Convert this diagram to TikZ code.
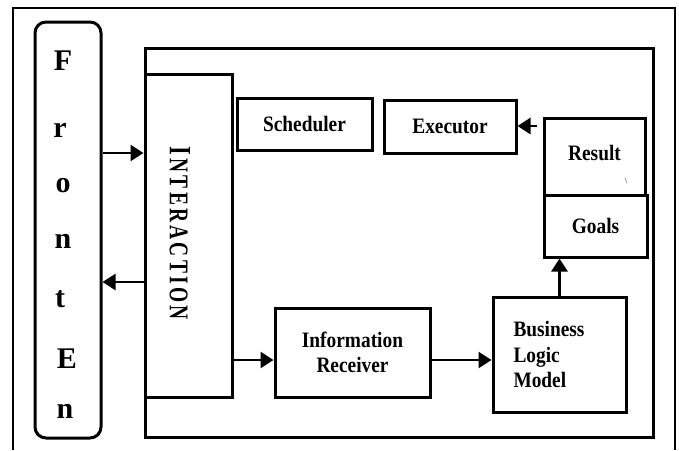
\documentclass[tikz,border=0pt]{standalone}
\usepackage{fontspec}
\setmainfont{Liberation Serif}
\newfontfamily\narrowfont[FakeStretch=0.88]{Liberation Serif}
\usetikzlibrary{arrows.meta}
\usepackage{graphicx}

\tikzset{
  blk/.style={draw=black,line width=3pt,inner sep=0pt,font=\narrowfont\fontsize{22}{25.5}\selectfont\bfseries},
  letter/.style={anchor=base,font=\fontsize{30}{30}\selectfont\bfseries},
  link/.style={line width=2.6pt,-{Triangle[length=13pt,width=16pt]}}
}

\begin{document}
\begin{tikzpicture}[x=1pt,y=-1pt]
\useasboundingbox (0,0) rectangle (679,450);

% page frame, open at the foot
\draw[line width=1.5pt] (13,450) -- (13,8) -- (675,8) -- (675,450);

% front end column
\node[draw=black,line width=3pt,rounded corners=11pt,minimum width=66pt,minimum height=416pt] (front) at (68,230) {};
\node[letter] (f1) at (63,70) {F};
\node[letter] (f2) at (60,137) {r};
\node[letter] (f3) at (63,192) {o};
\node[letter] (f4) at (63,248) {n};
\node[letter] (f5) at (60,307) {t};
\node[letter] (f6) at (67,368) {E};
\node[letter] (f7) at (65,418) {n};

% system frame
\node[blk,minimum width=508pt,minimum height=389pt] (system) at (399,242.5) {};

% interaction layer
\node[blk,minimum width=87pt,minimum height=323pt] (inter) at (188.5,235.5) {};
\node[rotate=-90,font=\bfseries] (intertext) at (180,233)
  {\scalebox{0.72}[1]{\fontsize{31}{31}\selectfont I\,\fontsize{27}{27}\selectfont N\,T\,E\,R\,A\,C\,T\,I\,O\,N}};

% inner blocks
\node[blk,minimum width=135pt,minimum height=52pt] (sched) at (304.5,124) {Scheduler};
\node[blk,minimum width=132pt,minimum height=53pt] (exec) at (450,126.5) {Executor};
\node[blk,minimum width=101pt,minimum height=77pt,text depth=8pt] (result) at (594.5,156.5) {Result};
\node[blk,minimum width=103pt,minimum height=62pt] (goals) at (595.5,226) {Goals};
\node[blk,minimum width=155pt,minimum height=89pt,align=center] (info) at (352.5,352.5) {Information\\Receiver};
\node[blk,minimum width=133pt,minimum height=115pt,text width=92pt,align=left] (biz) at (559.5,354.5) {Business\\Logic\\Model};
\node[font=\fontsize{8}{8}\selectfont] (tick) at (626,181) {\textbackslash};

% data flow
\draw[link] (front.east |- 0,153) -- (inter.west |- 0,153);
\draw[link] (inter.west |- 0,282) -- (front.east |- 0,282);
\draw[link] (inter.east |- 0,360) -- (info.west |- 0,360);
\draw[link] (info.east |- 0,360) -- (biz.west |- 0,360);
\draw[link] (biz.north) -- (goals.south -| biz.north);
\draw[link,shorten <=6pt] (result.west |- 0,126) -- (exec.east |- 0,126);

\end{tikzpicture}
\end{document}
